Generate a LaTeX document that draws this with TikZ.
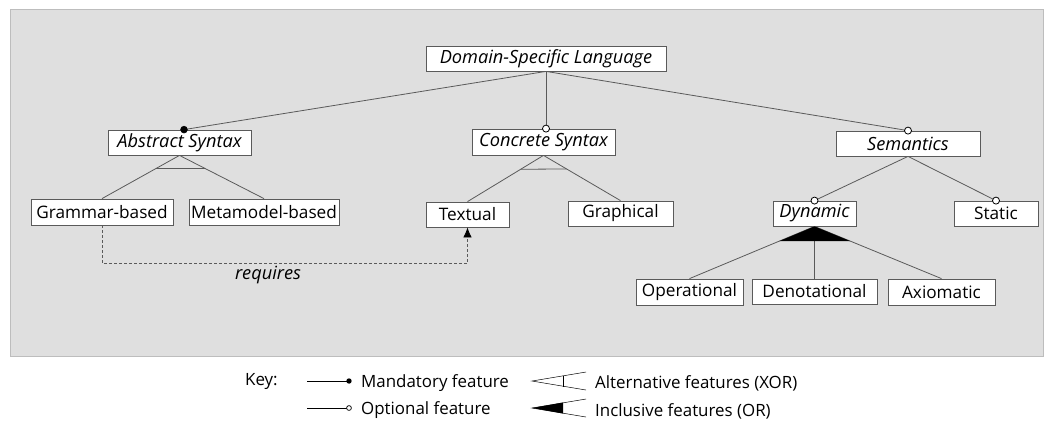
\documentclass[tikz,border=0pt]{standalone}
\usepackage{fontspec}
\setmainfont{Open Sans}
\usetikzlibrary{shadows,arrows.meta,calc}
\definecolor{bgfill}{HTML}{DFDFDF}
\definecolor{bgline}{HTML}{BDBDBD}
\definecolor{ln}{HTML}{5A5A5A}
\tikzset{
  fbox/.style={draw=ln, fill=white, line width=0.8pt, inner sep=0pt,
    font=\fontsize{17.2}{19}\selectfont,
    drop shadow={shadow xshift=1.2pt, shadow yshift=-1.2pt, fill=black, opacity=0.35}},
  itl/.style={font=\fontsize{18.2}{20}\selectfont\itshape},
  conn/.style={draw=ln, line width=0.8pt},
  mand/.style={fill=black, draw=black, line width=0.6pt},
  opt/.style={fill=white, draw=black, line width=0.8pt},
  keytext/.style={anchor=west, inner sep=0pt, font=\fontsize{16.9}{18}\selectfont},
}
\begin{document}
\begin{tikzpicture}[x=1pt, y=-1pt]
\useasboundingbox (0,0) rectangle (1045,421);
\fill[white] (0,0) rectangle (1045,421);
\draw[bgline, fill=bgfill, line width=0.8pt] (10,9) rectangle (1043,356);

% nodes
\node[fbox, itl, minimum width=240pt, minimum height=25pt] (dsl) at (546,58.5) {Domain-Specific Language};
\node[fbox, itl, minimum width=143pt, minimum height=25pt] (abs) at (179.5,142.5) {Abstract Syntax};
\node[fbox, itl, minimum width=143pt, minimum height=26pt] (con) at (543.5,142) {Concrete Syntax};
\node[fbox, itl, minimum width=144pt, minimum height=25pt] (sem) at (908,143.5) {Semantics};
\node[fbox, minimum width=142pt, minimum height=26pt] (gram) at (102,212) {Grammar-based};
\node[fbox, minimum width=150pt, minimum height=26pt] (meta) at (264,212) {Metamodel-based};
\node[fbox, minimum width=83pt, minimum height=25pt] (text) at (467.5,214.5) {Textual};
\node[fbox, minimum width=105pt, minimum height=25pt] (graph) at (620.5,213.5) {Graphical};
\node[fbox, itl, minimum width=83pt, minimum height=25pt] (dyn) at (814.5,213.5) {Dynamic};
\node[fbox, minimum width=84pt, minimum height=25pt] (stat) at (996,213.5) {Static};
\node[fbox, minimum width=107pt, minimum height=26pt] (op) at (689.5,292) {Operational};
\node[fbox, minimum width=125pt, minimum height=25pt] (den) at (814.5,291.5) {Denotational};
\node[fbox, minimum width=107pt, minimum height=26pt] (axi) at (941.5,292) {Axiomatic};

% top level connectors
\draw[conn] (dsl.south) -- ($(abs.north)+(4.5,0)$) coordinate (absdot);
\draw[conn] (dsl.south) -- (con.north -| dsl.south) coordinate (condot);
\draw[conn] (dsl.south) -- (sem.north) coordinate (semdot);
\fill[mand] (absdot) circle (3.4pt);
\draw[opt] (condot) circle (3.5pt);
\draw[opt] (semdot) circle (3.5pt);

% XOR under abstract syntax
\draw[conn] (abs.south) -- coordinate[pos=0.3] (a1) (gram.north);
\draw[conn] (abs.south) -- coordinate[pos=0.3] (a2) (meta.north);
\draw[conn] (a1) -- (a2);

% XOR under concrete syntax
\draw[conn] (con.south) -- coordinate[pos=0.3] (c1) (text.north);
\draw[conn] (con.south) -- coordinate[pos=0.3] (c2) (graph.north);
\draw[conn] (c1) -- (c2);

% semantics children
\draw[conn] (sem.south) -- (dyn.north);
\draw[conn] (sem.south) -- (stat.north);
\draw[opt] (dyn.north) circle (3.5pt);
\draw[opt] (stat.north) circle (3.5pt);

% OR under dynamic
\draw[conn] (dyn.south) -- coordinate[pos=0.283] (d1) (op.north);
\draw[conn] (dyn.south) -- (den.north);
\draw[conn] (dyn.south) -- coordinate[pos=0.283] (d3) (axi.north);
\fill[black] (dyn.south) -- (d1) -- (d3) -- cycle;

% requires
\draw[ln, line width=0.8pt, dash pattern=on 3pt off 2pt, -{Latex[length=10pt,width=8.5pt,color=black,fill=black]}]
  (gram.south) -- ++(0,38) coordinate (rq) -| (text.south);
\node[itl, inner sep=0pt] (req) at (268,275) {requires};

% key
\node[anchor=west, inner sep=0pt, font=\fontsize{16.9}{18}\selectfont] (key) at (245,381) {Key:};
\draw[black, line width=0.6pt] (307,381) -- (349,381);
\fill[black] (349,381) circle (2.7pt);
\node[keytext] (km) at (361,383) {Mandatory feature};
\draw[black, line width=0.6pt] (307,408) -- (346.5,408);
\draw[black, line width=0.7pt, fill=white] (349,408) circle (2.4pt);
\node[keytext] (ko) at (361,410) {Optional feature};

\draw[black, line width=0.5pt] (586,372) -- (532,381) -- (586,390);
\draw[black, line width=0.5pt] (563,375.5) -- (563,386.5);
\node[keytext] (kx) at (595,383) {Alternative features (XOR)};
\draw[black, line width=0.5pt] (586,399) -- (532,408) -- (586,417);
\fill[black] (532,408) -- (563,402.5) -- (563,413.5) -- cycle;
\node[keytext] (ki) at (595,411) {Inclusive features (OR)};
\end{tikzpicture}
\end{document}
